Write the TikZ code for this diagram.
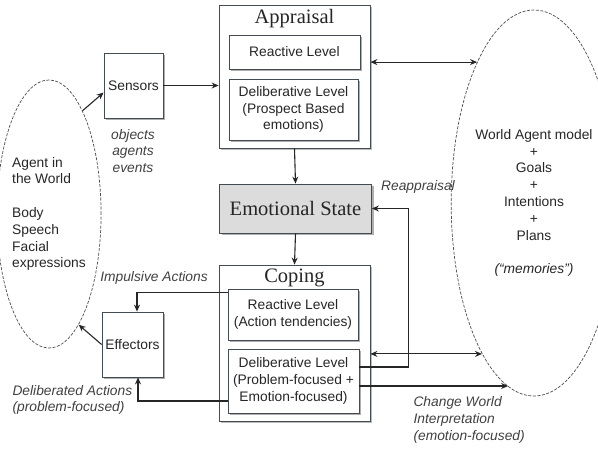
\documentclass[tikz,border=0pt]{standalone}
\usepackage{fontspec}
\setmainfont{Liberation Serif}
\setsansfont{Liberation Sans}
\usetikzlibrary{arrows.meta,shapes.geometric,shadows}
\definecolor{boxc}{HTML}{434B53}
\definecolor{emofill}{HTML}{DCDCDC}
\tikzset{>={Stealth[length=7pt,width=6pt]},every node/.style={font=\sffamily\fontsize{13.8}{16.8}\selectfont,text=black!85},
  box/.style={draw=boxc,fill=white,line width=.8pt,align=center,drop shadow={shadow xshift=2pt,shadow yshift=-2pt,fill=black!35,opacity=.9}},
  frame/.style={box,drop shadow={shadow xshift=1.5pt,shadow yshift=-1.5pt,fill=black!25,opacity=.8}},
  title/.style={font=\rmfamily\fontsize{20.5}{22}\selectfont},
  lbl/.style={font=\sffamily\itshape\fontsize{13.8}{16.6}\selectfont,text=black!75},
  blob/.style={ellipse,draw=black!70,line width=.7pt,dash pattern=on 3pt off 1.5pt,inner sep=0pt},
  flow/.style={line width=1.1pt,->,draw=black!85},
  edge/.style={line width=1.1pt,<->,draw=black!85}}
\begin{document}
\begin{tikzpicture}[x=1pt,y=-1pt]
\useasboundingbox (0,0) rectangle (598,448);
% agent and its memories
\node[blob,minimum width=94pt,minimum height=268pt,align=left] (world) at (49,214) {Agent in\\the World\\[16.8pt]Body\\Speech\\Facial\\expressions};
\node[blob,minimum width=128pt,minimum height=386pt,align=center] (mem) at (534,203) {World Agent model\\+\\Goals\\+\\Intentions\\+\\Plans\\[16.9pt]\textit{(“memories”)}};
% sensors and effectors
\node[box,minimum width=59pt,minimum height=65pt] (sens) at (133.5,85.5) {Sensors};
\node[box,minimum width=61pt,minimum height=65pt] (eff) at (132.5,344.5) {Effectors};
\node[lbl,align=center] (obj) at (133,151) {objects\\agents\\events};
% appraisal
\node[frame,minimum width=151pt,minimum height=143pt] (appr) at (294.5,76.5) {};
\node[title] (apprt) at (294.5,19) {Appraisal};
\node[box,minimum width=131pt,minimum height=34pt] (areact) at (294.5,52) {Reactive Level};
\node[box,minimum width=129pt,minimum height=61pt] (adelib) at (293.5,109.5) {Deliberative Level\\(Prospect Based\\emotions)};
\node[box,fill=emofill,minimum width=152pt,minimum height=49pt,font=\rmfamily\fontsize{20.5}{22}\selectfont] (emo) at (295.5,208.5) {Emotional State};
% coping
\node[frame,minimum width=151pt,minimum height=156pt] (cope) at (294.5,343) {};
\node[title] (copet) at (294.5,278) {Coping};
\node[box,minimum width=130pt,minimum height=51pt] (creact) at (293,314.5) {Reactive Level\\(Action tendencies)};
\node[box,minimum width=131pt,minimum height=64pt] (cdelib) at (293.5,381) {Deliberative Level\\(Problem-focused +\\Emotion-focused)};
% labels
\node[lbl] (reap) at (418,187) {Reappraisal};
\node[lbl] (imp) at (154,278) {Impulsive Actions};
\node[lbl,align=left,anchor=west] (delact) at (9,400) {Deliberated Actions\\(problem-focused)};
\node[lbl,align=left,anchor=west] (chg) at (410,420) {Change World\\Interpretation\\(emotion-focused)};
% connectors
\draw[flow] (world.72) -- ([yshift=-7pt]sens.west);
\draw[flow] (sens.east) -- (appr.west|-sens.east);
\draw[edge] (appr.east|-mem.112) -- (mem.112);
\draw[flow] (appr.south) -- (emo.north);
\draw[flow] (emo.south) -- (cope.north);
\draw[flow] ([yshift=14pt]cdelib.east) -| ([xshift=37pt]emo.east) -- (emo.east);
\draw[edge] (cope.east|-mem.251) -- (mem.251);
\draw[flow] ([yshift=-5pt]cdelib.east) -- ([yshift=-5pt]cdelib.east-|mem.262);
\draw[flow] ([yshift=22pt]creact.west) -| ([xshift=4.5pt]eff.north);
\draw[flow] ([yshift=-20pt]cdelib.west) -| ([xshift=5.5pt]eff.south);
\draw[flow] (eff.west) -- (world.285);
\end{tikzpicture}
\end{document}
